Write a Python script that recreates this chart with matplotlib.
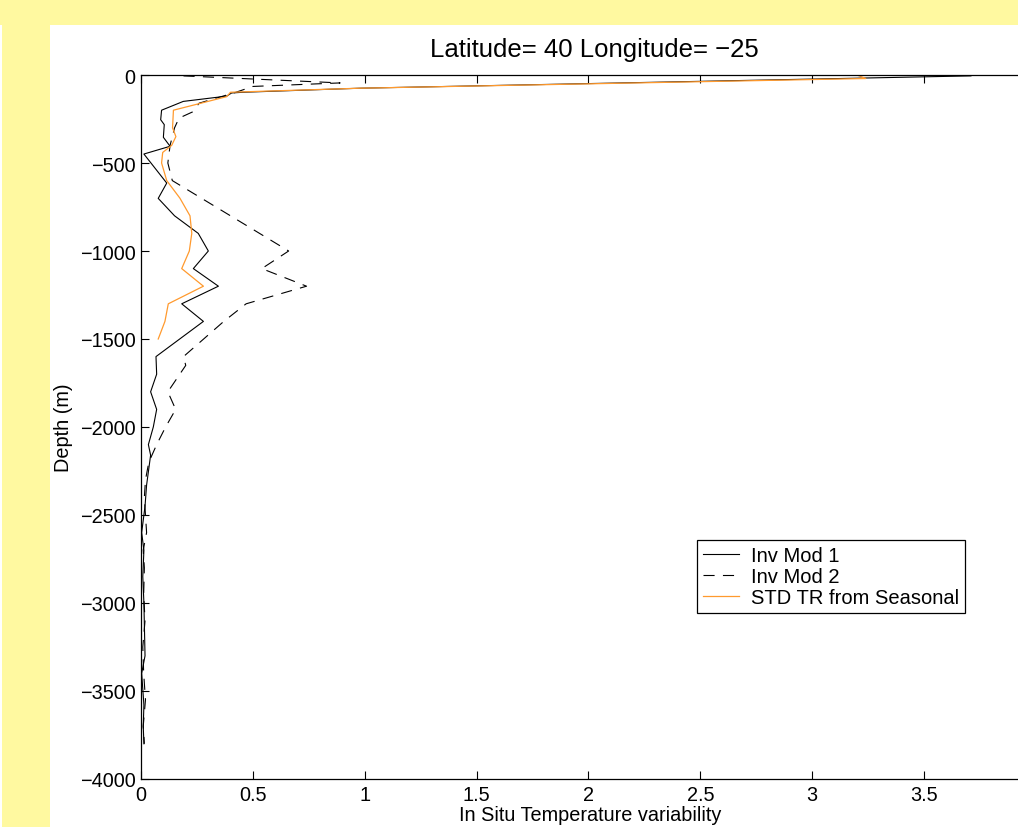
import matplotlib
matplotlib.use("Agg")
import matplotlib.pyplot as plt
from matplotlib.patches import Rectangle

plt.rcParams['font.family'] = ['Liberation Sans', 'DejaVu Sans']
plt.rcParams['lines.scale_dashes'] = False

# ---- data ----
inv1_x = [3.71, 0.98, 0.457, 0.405, 0.383, 0.189, 0.092, 0.088, 0.104, 0.100, 0.130,
          0.013, 0.115, 0.077, 0.150, 0.256, 0.301, 0.234, 0.346, 0.182, 0.279, 0.067,
          0.070, 0.043, 0.070, 0.055, 0.033, 0.043, 0.025, 0.018, 0.003, 0.013, 0.008,
          0.013, 0.018, 0.003, 0.013, 0.010, 0.013]
inv1_d = [-5, -75, -98, -102, -120, -150, -200, -254, -282, -354, -405,
          -449, -614, -701, -800, -900, -1000, -1100, -1200, -1300, -1400, -1600,
          -1700, -1800, -1900, -2000, -2100, -2160, -2330, -2450, -2600, -2700, -2850,
          -3000, -3300, -3400, -3580, -3700, -3800]

inv2_x = [0.19, 0.89, 0.50, 0.42, 0.26, 0.23, 0.17, 0.15, 0.13, 0.12, 0.13, 0.14,
          0.27, 0.40, 0.53, 0.66, 0.54, 0.74, 0.47, 0.37, 0.28, 0.19, 0.20, 0.12,
          0.155, 0.11, 0.07, 0.035, 0.02, 0.015, 0.025, 0.01, 0.015, 0.012, 0.018,
          0.008, 0.012, 0.02, 0.01, 0.015]
inv2_d = [-5, -45, -65, -100, -160, -210, -245, -300, -400, -500, -550, -600,
          -700, -800, -900, -1000, -1100, -1200, -1300, -1400, -1500, -1600, -1650, -1800,
          -1900, -2000, -2100, -2200, -2300, -2400, -2600, -2700, -2800, -2950, -3100,
          -3250, -3400, -3550, -3700, -3800]

std_x = [3.20, 3.24, 0.98, 0.40, 0.383, 0.145, 0.141, 0.156, 0.137, 0.097, 0.092,
         0.115, 0.174, 0.219, 0.227, 0.216, 0.182, 0.279, 0.122, 0.107, 0.077]
std_d = [0, -20, -75, -98, -123, -200, -300, -350, -400, -440, -500,
         -600, -700, -800, -900, -1000, -1100, -1200, -1300, -1400, -1500]

xticks = [0, 0.5, 1, 1.5, 2, 2.5, 3, 3.5]
xticklabels = ['0', '0.5', '1', '1.5', '2', '2.5', '3', '3.5']
yticks = [0, -500, -1000, -1500, -2000, -2500, -3000, -3500, -4000]

W, H = 1018, 828
AXW = 4 * 223.7
fig = plt.figure(figsize=(W / 100, H / 100), dpi=100, facecolor='#fff9a0')
# white panel
fig.patches.append(Rectangle((50 / W, 0), 1, 1 - 26 / H, transform=fig.transFigure,
                             facecolor='white', edgecolor='none', zorder=-10))
fig.patches.append(Rectangle((0, 0), 2 / W, 1 - 26 / H, transform=fig.transFigure,
                             facecolor='white', edgecolor='none', zorder=-10))

ax = fig.add_axes([141 / W, 1 - 780 / H, AXW / W, 704 / H])
ax.set_facecolor('white')

ax.plot(inv1_x, inv1_d, color='black', lw=0.8, label='Inv Mod 1')
ax.plot(inv2_x, inv2_d, color='black', lw=0.8, dashes=(8, 6), label='Inv Mod 2')
ax.plot(std_x, std_d, color='#ff9a2e', lw=0.9, label='STD TR from Seasonal')

ax.set_xlim(0, 4)
ax.set_ylim(-4000, 0)
ax.set_xticks(xticks)
ax.set_xticklabels(xticklabels)
ax.set_yticks(yticks)
ax.tick_params(direction='in', length=6, width=0.8, labelsize=14.3, top=True, right=True,
               pad=4, colors='black')
for s in ax.spines.values():
    s.set_linewidth(0.9)

ax.set_ylabel('Depth (m)', fontsize=14.3)
ax.yaxis.set_label_coords((73 - 141) / AXW, 0.5)
ax.set_xlabel('In Situ Temperature variability', fontsize=14.3)
ax.xaxis.set_label_coords(449 / AXW, -(806 - 780) / 704)
ax.xaxis.label.set_va('top')

fig.text(594 / W, 1 - 50 / H, 'Latitude= 40 Longitude= \u221225', fontsize=18.5,
         ha='center', va='center')

leg = ax.legend(loc='upper left', bbox_to_anchor=(697 / W, 1 - 541 / H),
                bbox_transform=fig.transFigure, borderaxespad=0, fontsize=14.5,
                fancybox=False, edgecolor='black', framealpha=1,
                labelspacing=0.12, handlelength=1.8, handletextpad=0.6,
                borderpad=0.28)
leg.get_frame().set_linewidth(0.9)

fig.savefig('out.png', dpi=100, facecolor=fig.get_facecolor())
